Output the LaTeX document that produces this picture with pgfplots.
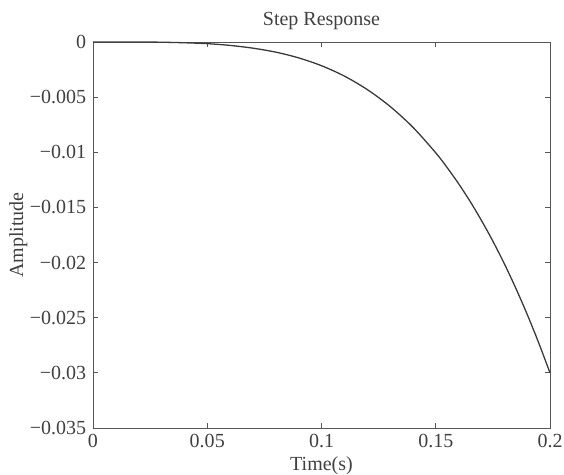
\documentclass[border=0pt]{standalone}
\usepackage{fontspec}
\setmainfont{Liberation Serif}
\usepackage{pgfplots}
\pgfplotsset{compat=1.18}
\definecolor{curve}{HTML}{3A3A3A}
\definecolor{frame}{HTML}{555555}
\begin{document}
\fontsize{20}{23}\selectfont
\begin{tikzpicture}
\begin{axis}[scale only axis,width=457pt,height=386pt,
xmin=0,xmax=0.2,ymin=-0.035,ymax=0,
scaled ticks=false,
xtick={0,0.05,0.1,0.15,0.2},xticklabels={0,0.05,0.1,0.15,0.2},
ytick={-0.035,-0.03,-0.025,-0.02,-0.015,-0.01,-0.005,0},
yticklabels={−0.035,−0.03,−0.025,−0.02,−0.015,−0.01,−0.005,0},
tick align=inside,major tick length=5pt,
axis line style={frame,line width=0.8pt},
every tick/.style={frame,line width=0.8pt},
tick label style={text=black!75,font=\fontsize{20}{23}\selectfont},
xticklabel style={yshift=1pt},
title={Step Response},
title style={text=black!75,font=\fontsize{20}{23}\selectfont,yshift=-1pt},
xlabel={Time(s)},ylabel={Amplitude},
label style={text=black!75,font=\fontsize{20}{23}\selectfont},
xlabel style={yshift=4pt},ylabel style={yshift=-11pt}]
\addplot[curve,line width=1.3pt,smooth] coordinates {
(0,0) (0.02,0) (0.03,-0.00002) (0.04,-0.00007) (0.05,-0.00015) (0.06,-0.00031)
(0.07,-0.00056) (0.08,-0.00092) (0.09,-0.00144) (0.1,-0.00215)
(0.11,-0.00309) (0.12,-0.00431) (0.13,-0.00584) (0.14,-0.00773)
(0.15,-0.01005) (0.155,-0.01139) (0.16,-0.01285) (0.165,-0.01444)
(0.17,-0.01618) (0.175,-0.01806) (0.18,-0.0201) (0.185,-0.02231)
(0.19,-0.02469) (0.195,-0.02725) (0.2,-0.03)};
\end{axis}
\pgfresetboundingbox
\path[use as bounding box] ([xshift=-93pt,yshift=-47pt]current axis.south west)
  rectangle ([xshift=14pt,yshift=42pt]current axis.north east);
\end{tikzpicture}
\end{document}
